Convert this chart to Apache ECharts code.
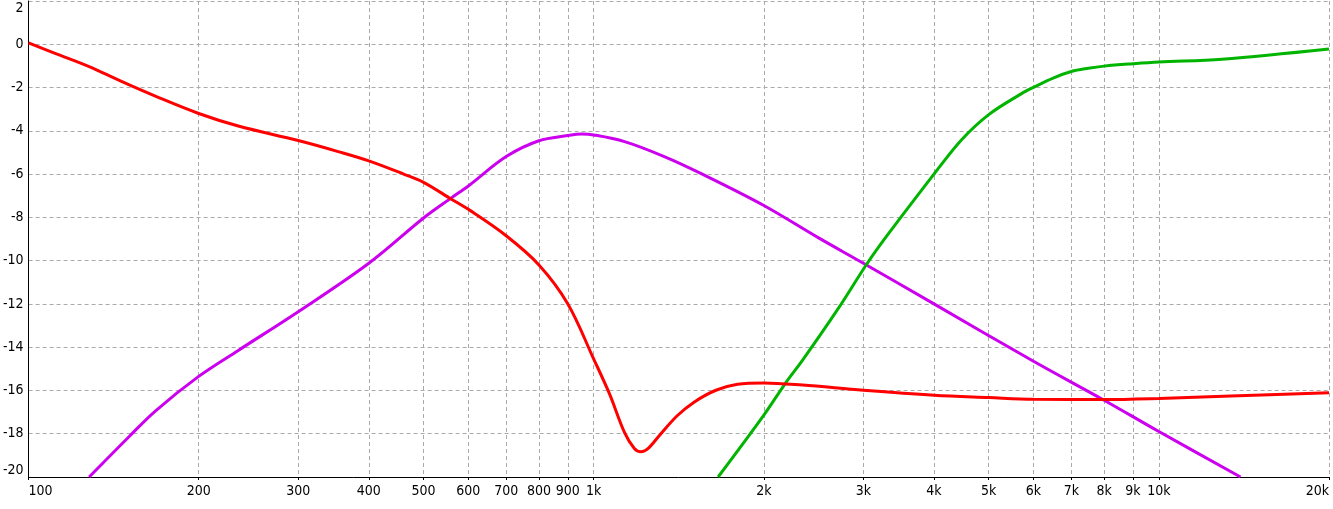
<!DOCTYPE html>
<html>
<head>
<meta charset="utf-8">
<script src="https://cdn.jsdelivr.net/npm/echarts@6/dist/echarts.min.js"></script>
<style>
html,body{margin:0;padding:0;background:#fff;}
#chart{width:1333px;height:509px;}
</style>
</head>
<body>
<div id="chart"></div>
<script>
// X tick frequencies (Hz) and Y tick range
const xTicks = [100,200,300,400,500,600,700,800,900,1000,2000,3000,4000,5000,6000,7000,8000,9000,10000,20000];
const yMin = -20, yMax = 2, yStep = 2;

// Red curve
const redFreq = [100,112,128,146,168,200,235,300,353,400,463,500,560,600,700,800,900,1000,1066,1134,1180,1212,1250,1308,1405,1507,1645,1797,2000,2342,3000,4000,5000,6000,8000,10000,13410,20000];
const redVal  = [0.06,-0.44,-1.03,-1.72,-2.41,-3.2,-3.78,-4.45,-4.96,-5.39,-6.02,-6.38,-7.16,-7.63,-8.85,-10.2,-12.0,-14.55,-16.15,-17.95,-18.68,-18.83,-18.66,-18.07,-17.17,-16.53,-15.99,-15.71,-15.65,-15.75,-15.99,-16.22,-16.33,-16.41,-16.42,-16.37,-16.26,-16.11];

// Magenta curve
const magFreq = [128,150.4,167.6,200,235,300,400,500,560,600,700,800,900,952,1000,1134,1333,1550,2000,2500,3000,4000,6000,8000,10000,13945];
const magVal  = [-20.0,-18.15,-16.95,-15.35,-14.15,-12.36,-10.12,-8.03,-7.1,-6.55,-5.19,-4.46,-4.22,-4.15,-4.19,-4.5,-5.19,-5.98,-7.45,-8.95,-10.12,-12.0,-14.65,-16.45,-17.9,-20.0];

// Green curve
const grnFreq = [1660,2000,2182,2342,2696,3034,3227,3502,4000,4473,5000,5715,6000,6500,7000,7500,8000,9000,10000,12930,20000];
const grnVal  = [-20.0,-17.14,-15.68,-14.6,-12.29,-10.2,-9.2,-7.97,-6.0,-4.42,-3.25,-2.28,-1.99,-1.56,-1.26,-1.11,-1.01,-0.9,-0.82,-0.69,-0.22];

const toPts = (f, v) => f.map((x, i) => [Math.log10(x), v[i]]);
const fontFam = "'Liberation Sans Narrow','DejaVu Sans Condensed','Liberation Sans',sans-serif";
const fmtFreq = (lv) => {
  const f = Math.round(Math.pow(10, lv));
  return f >= 1000 ? (f / 1000) + 'k' : String(f);
};
const tickPos = xTicks.map(f => Math.log10(f));

const chart = echarts.init(document.getElementById('chart'), null, {renderer: 'canvas'});
const mkSeries = (pts, color) => ({
  type: 'line', data: pts, showSymbol: false, symbol: 'none',
  smooth: 0.35, clip: true,
  lineStyle: {color: color, width: 3}, emphasis: {disabled: true}
});
chart.setOption({
  animation: false,
  backgroundColor: '#ffffff',
  grid: {left: 26, right: 4, top: 1, bottom: 32, containLabel: false},
  xAxis: {
    type: 'value', min: Math.log10(xTicks[0]), max: Math.log10(xTicks[xTicks.length - 1]),
    axisLine: {show: true, onZero: false, lineStyle: {color: '#000', width: 1}},
    axisTick: {show: true, customValues: tickPos, length: 3, lineStyle: {color: '#000'}},
    axisLabel: {customValues: tickPos, formatter: fmtFreq, color: '#000', fontSize: 14,
      fontFamily: fontFam, margin: 7, alignMinLabel: 'left', alignMaxLabel: 'right', hideOverlap: false},
    splitLine: {show: true, lineStyle: {color: '#aaaaaa', type: [4, 3], width: 1}}
  },
  yAxis: {
    type: 'value', min: yMin, max: yMax, interval: yStep,
    axisLine: {show: true, onZero: false, lineStyle: {color: '#000', width: 1}},
    axisTick: {show: false},
    axisLabel: {color: '#000', fontSize: 14, fontFamily: fontFam, margin: 5,
      verticalAlignMinLabel: 'bottom', verticalAlignMaxLabel: 'top'},
    splitLine: {show: true, lineStyle: {color: '#aaaaaa', type: [4, 3], width: 1}}
  },
  series: [
    mkSeries(toPts(magFreq, magVal), '#cc00ee'),
    mkSeries(toPts(grnFreq, grnVal), '#00b400'),
    mkSeries(toPts(redFreq, redVal), '#ff0000')
  ]
});
</script>
</body>
</html>
